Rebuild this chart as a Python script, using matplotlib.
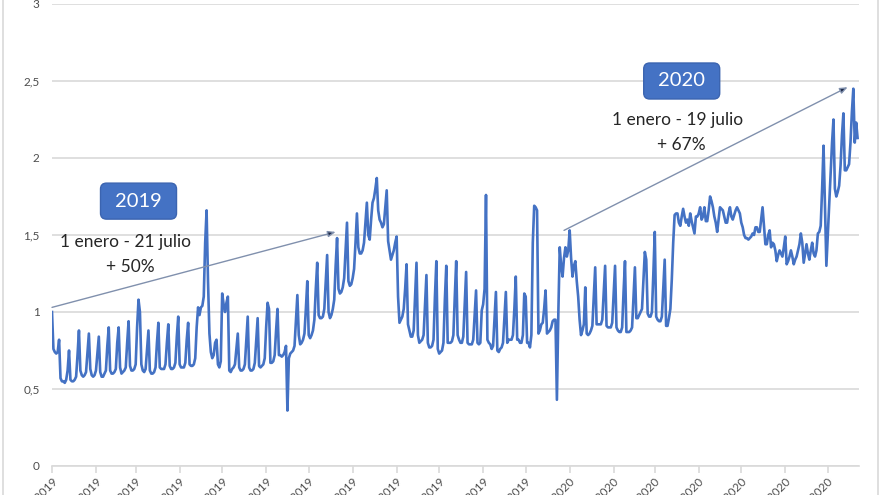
import pandas as pd
import matplotlib
matplotlib.use('Agg')
import matplotlib.pyplot as plt
import matplotlib.dates as mdates
from matplotlib.patches import FancyBboxPatch
from matplotlib.transforms import IdentityTransform
from matplotlib.lines import Line2D

plt.rcParams['font.family'] = ['Lato', 'DejaVu Sans']

# daily values, 1 Jan 2019 onwards; rows run Tuesday..Monday
values_2019 = [
    1.00, 0.76, 0.74, 0.73, 0.74, 0.82, 0.57,
    0.55, 0.55, 0.54, 0.56, 0.62, 0.75, 0.56,
    0.55, 0.55, 0.56, 0.58, 0.72, 0.88, 0.62,
    0.59, 0.58, 0.59, 0.61, 0.74, 0.86, 0.63,
    0.59, 0.58, 0.59, 0.62, 0.73, 0.84, 0.61,
    0.58, 0.58, 0.60, 0.62, 0.78, 0.90, 0.62,
    0.60, 0.60, 0.61, 0.63, 0.80, 0.90, 0.64,
    0.60, 0.61, 0.62, 0.64, 0.80, 0.94, 0.65,
    0.62, 0.62, 0.63, 0.66, 0.90, 1.08, 1.00,
    0.66, 0.62, 0.61, 0.63, 0.76, 0.88, 0.62,
    0.60, 0.60, 0.61, 0.64, 0.80, 0.93, 0.64,
    0.63, 0.63, 0.63, 0.66, 0.80, 0.92, 0.65,
    0.63, 0.63, 0.64, 0.67, 0.84, 0.97, 0.66,
    0.64, 0.64, 0.64, 0.67, 0.82, 0.93, 0.66,
    0.65, 0.65, 0.66, 0.70, 0.90, 1.03, 0.98,
    1.03, 1.04, 1.10, 1.45, 1.66, 1.20, 0.86,
    0.74, 0.70, 0.72, 0.80, 0.82, 0.66, 0.64,
    0.68, 1.12, 1.05, 1.00, 1.06, 1.10, 0.62,
    0.61, 0.63, 0.64, 0.66, 0.76, 0.86, 0.64,
    0.62, 0.62, 0.63, 0.66, 0.82, 0.97, 0.64,
    0.62, 0.62, 0.63, 0.67, 0.82, 0.96, 0.65,
    0.64, 0.65, 0.66, 0.70, 0.90, 1.06, 1.02,
    0.67, 0.67, 0.68, 0.72, 0.88, 1.02, 0.72,
    0.72, 0.71, 0.72, 0.74, 0.78, 0.36, 0.70,
    0.73, 0.74, 0.75, 0.78, 0.95, 1.11, 0.85,
    0.79, 0.80, 0.82, 0.86, 1.02, 1.20, 0.85,
    0.83, 0.85, 0.88, 0.95, 1.15, 1.32, 0.98,
    0.96, 0.96, 0.97, 1.02, 1.20, 1.37, 1.00,
    0.96, 0.98, 1.02, 1.08, 1.30, 1.48, 1.15,
    1.12, 1.13, 1.16, 1.22, 1.40, 1.58, 1.20,
    1.17, 1.18, 1.22, 1.28, 1.45, 1.64, 1.42,
    1.38, 1.38, 1.40, 1.45, 1.58, 1.71, 1.50,
    1.47, 1.60, 1.71, 1.74, 1.80, 1.87, 1.66,
    1.60, 1.58, 1.55, 1.57, 1.68, 1.79, 1.46,
    1.40, 1.34, 1.37, 1.40, 1.45, 1.49, 1.10,
    0.93, 0.95, 0.97, 1.02, 1.15, 1.31, 0.92,
    0.88, 0.84, 0.84, 0.88, 1.10, 1.32, 0.85,
    0.80, 0.81, 0.82, 0.85, 1.05, 1.24, 0.80,
    0.77, 0.77, 0.78, 0.82, 1.10, 1.33, 0.76,
    0.73, 0.74, 0.75, 0.80, 1.08, 1.30, 0.80,
    0.80, 0.80, 0.81, 0.85, 1.10, 1.33, 0.85,
    0.82, 0.80, 0.80, 0.84, 1.05, 1.26, 0.80,
    0.79, 0.79, 0.79, 0.82, 0.98, 1.14, 0.80,
    0.79, 0.80, 1.01, 1.05, 1.15, 1.76, 0.82,
    0.80, 0.79, 0.76, 0.78, 0.95, 1.13, 0.75,
    0.74, 0.76, 0.77, 0.80, 0.96, 1.13, 0.80,
    0.82, 0.82, 0.82, 0.85, 1.02, 1.23, 0.82,
    0.82, 0.80, 0.80, 0.85, 1.12, 1.10, 0.80,
    0.80, 0.77, 0.85, 1.45, 1.69, 1.68, 1.66,
    0.86, 0.88, 0.92, 0.93, 1.02, 1.14, 0.86,
    0.87, 0.88, 0.90, 0.94, 0.95, 0.95, 0.43,
    0.99, 1.42, 1.30, 1.23, 1.35, 1.42, 1.36,
    1.40,
]
values_2020 = [
    1.53, 1.35, 1.23, 1.30, 1.33, 1.20,
    1.10, 0.95, 0.85, 0.88, 0.92, 1.16, 0.86,
    0.85, 0.86, 0.88, 0.91, 1.10, 1.29, 0.92,
    0.92, 0.92, 0.92, 0.95, 1.12, 1.30, 0.91,
    0.90, 0.90, 0.90, 0.93, 1.12, 1.30, 0.90,
    0.88, 0.87, 0.87, 0.90, 1.13, 1.33, 0.87,
    0.87, 0.87, 0.88, 0.90, 1.10, 1.29, 0.96,
    0.96, 0.98, 1.00, 1.02, 1.20, 1.39, 1.34,
    0.99, 0.97, 0.97, 1.00, 1.25, 1.52, 0.97,
    0.95, 0.94, 0.94, 0.97, 1.15, 1.34, 0.91,
    0.91, 0.96, 1.02, 1.21, 1.45, 1.63, 1.64,
    1.64, 1.58, 1.56, 1.62, 1.67, 1.62, 1.58,
    1.60, 1.56, 1.64, 1.59, 1.55, 1.51, 1.62,
    1.62, 1.64, 1.68, 1.60, 1.62, 1.68, 1.59,
    1.59, 1.66, 1.75, 1.72, 1.68, 1.62, 1.58,
    1.52, 1.60, 1.68, 1.67, 1.66, 1.62, 1.58,
    1.58, 1.64, 1.68, 1.62, 1.60, 1.63, 1.66,
    1.68, 1.66, 1.64, 1.58, 1.55, 1.50, 1.48,
    1.48, 1.47, 1.48, 1.49, 1.51, 1.50, 1.55,
    1.55, 1.52, 1.52, 1.60, 1.68, 1.56, 1.44,
    1.44, 1.50, 1.53, 1.42, 1.45, 1.44, 1.40,
    1.33, 1.37, 1.40, 1.38, 1.36, 1.42, 1.49,
    1.31, 1.33, 1.36, 1.40, 1.36, 1.31, 1.34,
    1.36, 1.40, 1.44, 1.51, 1.45, 1.32, 1.38,
    1.44, 1.38, 1.34, 1.40, 1.45, 1.38, 1.36,
    1.40, 1.51, 1.52, 1.56, 1.80, 2.08, 1.70,
    1.30, 1.50, 1.70, 1.90, 2.10, 2.25, 1.80,
    1.75, 1.78, 1.82, 1.95, 2.15, 2.29, 1.92,
    1.92, 1.94, 1.96, 2.10, 2.30, 2.45, 2.10,
    2.23, 2.13,
]

y_ticks = [0, 0.5, 1, 1.5, 2, 2.5, 3]
y_labels = ['0', '0,5', '1', '1,5', '2', '2,5', '3']

# annotations: year box, period text, growth text
year_labels = ['2019', '2020']
year_pos = [('2019-03-03', 1.72), ('2020-03-20', 2.50)]
range_labels = ['1 enero - 21 julio', '1 enero - 19 julio']
range_pos = [('2019-02-22', 1.455), ('2020-03-17', 2.25)]
growth_labels = ['+ 50%', '+ 67%']
growth_pos = [('2019-02-25', 1.29), ('2020-03-20', 2.085)]
arrow_start = [('2019-01-01', 1.03), ('2019-12-28', 1.53)]
arrow_end = [('2019-07-20', 1.52), ('2020-07-15', 2.46)]

blue = '#4472C4'
grey_txt = '#4d4d4d'

values = values_2019 + values_2020
dates = pd.date_range('2019-01-01', periods=len(values), freq='D')

fig = plt.figure(figsize=(8.8, 4.95), dpi=100)
ax = fig.add_axes([52 / 880, 29 / 495, 807 / 880, 462 / 495])

ax.plot(dates, values, color=blue, lw=1.9, solid_joinstyle='round', zorder=3)

ax.set_ylim(0, 3)
ax.set_xlim(pd.Timestamp('2019-01-01'), pd.Timestamp('2020-07-23'))
ax.set_yticks(y_ticks)
ax.set_yticklabels(y_labels)
ax.grid(axis='y', color='#d9d9d9', lw=1.2)
ax.set_axisbelow(True)
for s in ['top', 'right', 'left']:
    ax.spines[s].set_visible(False)
ax.spines['bottom'].set_color('#d9d9d9')
ax.spines['bottom'].set_linewidth(1.2)

ax.xaxis.set_major_locator(mdates.MonthLocator(bymonthday=1))
ax.xaxis.set_major_formatter(mdates.DateFormatter('%d/%m/%Y'))
ax.tick_params(axis='x', colors='#d9d9d9', length=5, width=1.2, labelcolor=grey_txt,
               labelsize=8.5, pad=2)
ax.tick_params(axis='y', length=0, labelcolor=grey_txt, labelsize=8.5, pad=9)
for lab in ax.get_xticklabels():
    lab.set_rotation(45)
    lab.set_ha('right')
    lab.set_rotation_mode('anchor')

def dpos(p):
    return (mdates.date2num(pd.Timestamp(p[0])), p[1])

for (a, b) in zip(arrow_start, arrow_end):
    ax.annotate('', xy=dpos(b), xytext=dpos(a),
                arrowprops=dict(arrowstyle='-|>,head_length=0.45,head_width=0.18',
                                ec='#8090ad', fc='#1b2747', lw=1.0,
                                shrinkA=0, shrinkB=0), zorder=4)

for lab, p in zip(year_labels, year_pos):
    cx, cy = ax.transData.transform(dpos(p))
    box = FancyBboxPatch((cx - 38, cy - 18), 76, 36,
                         boxstyle='round,pad=0,rounding_size=6',
                         fc=blue, ec='#3b64b0', lw=1.0,
                         transform=IdentityTransform(), zorder=5)
    ax.add_patch(box)
    ax.text(*dpos(p), lab, color='white', fontsize=14.5, ha='center', va='center',
            zorder=6)

for lab, p in zip(range_labels, range_pos):
    ax.text(*dpos(p), lab, color='#262626', fontsize=12.5, ha='center', va='center', zorder=6)
for lab, p in zip(growth_labels, growth_pos):
    ax.text(*dpos(p), lab, color='#262626', fontsize=12.5, ha='center', va='center', zorder=6)

# chart frame edges
fig.add_artist(Line2D([2.5 / 880, 2.5 / 880], [0, 1], transform=fig.transFigure,
                      color='#d9d9d9', lw=1.2))
fig.add_artist(Line2D([877.5 / 880, 877.5 / 880], [0, 1], transform=fig.transFigure,
                      color='#d9d9d9', lw=1.2))

fig.savefig('out.png', dpi=100)
